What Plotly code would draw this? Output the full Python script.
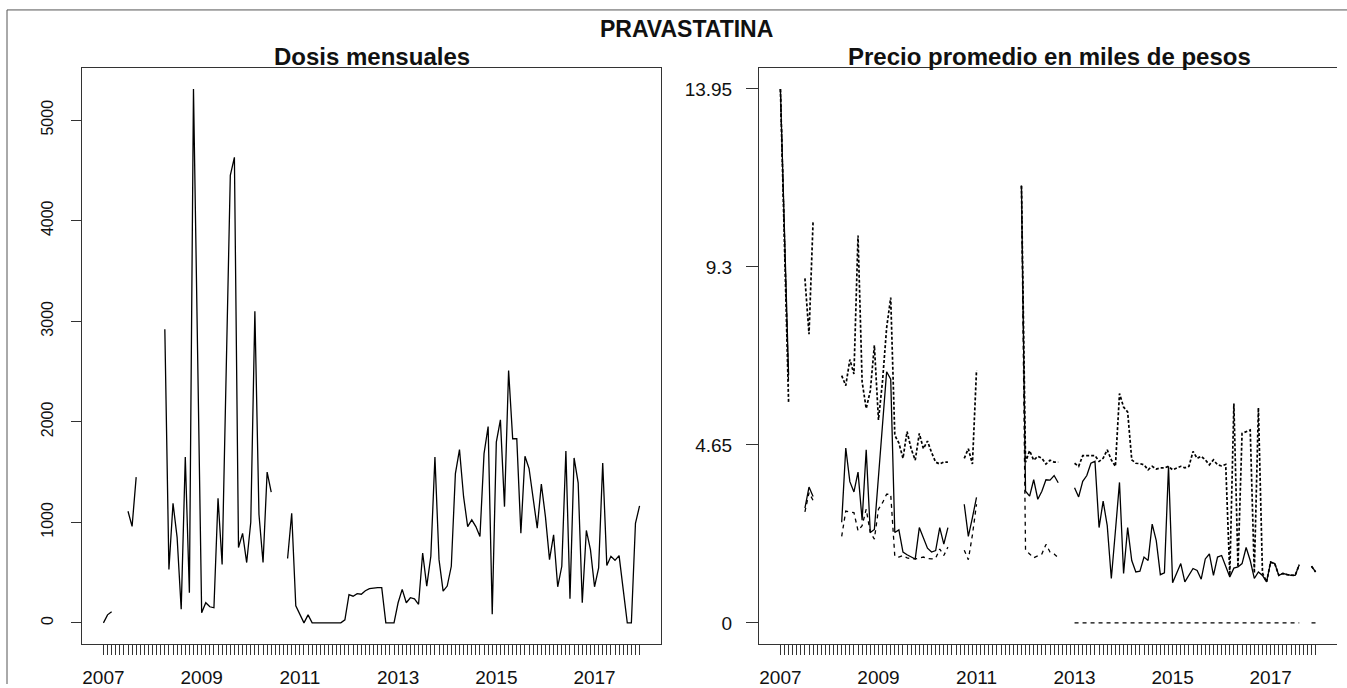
import plotly.graph_objects as go

# ---- data -------------------------------------------------------------
# month index: 1 = Jan 2007 ... 132 = Dec 2017
months = list(range(1, 133))
year_labels = ["2007", "2009", "2011", "2013", "2015", "2017"]

N = None

# monthly doses
dosis = [
    0, 80, 110, N, N, N, 1110, 960, 1450, N, N, N,                         # 2007
    N, N, N, 2920, 530, 1190, 850, 135, 1650, 300, 5310, 2710,             # 2008
    100, 200, 160, 150, 1240, 580, 2500, 4450, 4630, 750, 890, 600,        # 2009
    1000, 3100, 1080, 600, 1500, 1300, N, N, N, 640, 1090, 170,            # 2010
    80, 0, 80, 0, 0, 0, 0, 0, 0, 0, 0, 30,                                 # 2011
    280, 265, 290, 285, 320, 340, 346, 350, 350, 0, 0, 0,                  # 2012
    200, 333, 200, 250, 240, 185, 695, 366, 662, 1650, 629, 316,           # 2013
    366, 563, 1485, 1723, 1255, 958, 1025, 958, 860, 1683, 1953, 86,       # 2014
    1798, 2019, 1156, 2510, 1831, 1831, 892, 1657, 1535, 1222, 942, 1380,  # 2015
    1057, 629, 876, 359, 563, 1709, 240, 1640, 1393, 200, 919, 728,        # 2016
    359, 546, 1591, 570, 662, 622, 669, 333, 0, 0, 991, 1163,              # 2017
]

# average price (thousands of pesos)
precio_prom = [
    13.95, 10.2, 6.47, N, N, N, 3.0, 3.55, 3.3, N, N, N,
    N, N, N, 2.63, 4.57, 3.69, 3.42, 3.94, 2.68, 4.52, 2.36, 2.44,
    3.81, 5.19, 6.56, 6.37, 2.36, 2.43, 1.85, 1.78, 1.72, 1.67, 2.49, 2.2,
    1.95, 1.85, 1.89, 2.49, 2.06, 2.49, N, N, N, 3.1, 2.26, 2.75,
    3.28, N, N, N, N, N, N, N, N, N, N, 11.42,
    3.44, 3.31, 3.74, 3.23, 3.44, 3.74, 3.73, 3.85, 3.66, N, N, N,
    3.53, 3.29, 3.7, 3.85, 4.17, 4.22, 2.49, 3.18, 2.54, 1.16, 2.4, 3.67,
    1.29, 2.49, 1.63, 1.33, 1.35, 1.72, 1.63, 2.58, 2.15, 1.26, 1.31, 4.09,
    1.05, 1.29, 1.55, 1.07, 1.24, 1.42, 1.37, 1.14, 1.67, 1.8, 1.24, 1.72,
    1.76, 1.46, 1.2, 1.43, 1.46, 1.55, 1.97, 1.63, 1.16, 1.33, 1.24, 1.07,
    1.59, 1.55, 1.24, 1.29, 1.26, 1.24, 1.24, 1.52, N, N, 1.48, 1.33,
]

# maximum price
precio_max = [
    13.95, 9.9, 5.77, N, N, N, 9.0, 7.54, 10.5, N, N, N,
    N, N, N, 6.46, 6.2, 6.88, 6.5, 10.12, 6.3, 5.6, 6.06, 7.25,
    5.3, 6.32, 7.71, 8.5, 4.9, 4.7, 4.3, 5.0, 4.55, 4.25, 4.95, 4.55,
    4.75, 4.45, 4.2, 4.15, 4.2, 4.2, N, N, N, 4.3, 4.55, 4.15,
    6.6, N, N, N, N, N, N, N, N, N, N, 11.42,
    4.2, 4.5, 4.25, 4.35, 4.3, 4.15, 4.25, 4.2, 4.2, N, N, N,
    4.17, 4.09, 4.37, 4.37, 4.37, 4.37, 4.22, 4.3, 4.52, 4.26, 4.09, 5.99,
    5.64, 5.51, 4.26, 4.17, 4.16, 4.13, 4.0, 4.09, 4.02, 4.05, 4.05, 4.09,
    4.0, 4.05, 4.09, 4.05, 4.09, 4.48, 4.3, 4.35, 4.26, 4.13, 4.26, 4.13,
    4.1, 4.14, 1.24, 5.73, 1.46, 4.95, 5.0, 5.04, 1.3, 5.62, 1.3, 1.07,
    1.59, 1.55, 1.24, 1.29, 1.26, 1.24, 1.24, 1.52, N, N, 1.48, 1.33,
]

# minimum price
precio_min = [
    13.95, 10.0, 6.2, N, N, N, 2.9, 3.4, 3.2, N, N, N,
    N, N, N, 2.26, 2.92, 2.9, 2.88, 2.41, 2.54, 2.97, 2.36, 2.19,
    2.97, 3.14, 3.36, 3.36, 1.74, 1.72, 1.76, 1.7, 1.67, 1.67, 1.7, 1.72,
    1.68, 1.67, 1.69, 1.93, 1.76, 1.98, N, N, N, 1.9, 1.65, 2.3,
    3.1, N, N, N, N, N, N, N, N, N, N, 11.42,
    1.9, 1.8, 1.7, 1.75, 1.8, 2.05, 1.85, 1.8, 1.7, N, N, N,
    0, 0, 0, 0, 0, 0, 0, 0, 0, 0, 0, 0,
    0, 0, 0, 0, 0, 0, 0, 0, 0, 0, 0, 0,
    0, 0, 0, 0, 0, 0, 0, 0, 0, 0, 0, 0,
    0, 0, 0, 0, 0, 0, 0, 0, 0, 0, 0, 0,
    0, 0, 0, 0, 0, 0, 0, 0, N, N, 0, 0,
]

dosis_ticks = [0, 1000, 2000, 3000, 4000, 5000]
precio_ticks = [0, 4.65, 9.3, 13.95]
precio_tick_text = ["0", "4.65", "9.3", "13.95"]

# ---- layout helpers ------------------------------------------------------
W, H = 1347, 688
FONT = "Liberation Sans, Arial, sans-serif"
INK = "#111111"


def px_x(v):
    return v / W


def px_y(v):
    return 1 - v / H


def padded(lo, hi, frac=0.04):
    span = hi - lo
    return [lo - frac * span, hi + frac * span]


x_range = padded(months[0], months[-1])
month_text = [year_labels[(m - 1) // 24] if (m - 1) % 24 == 0 else "" for m in months]

fig = go.Figure()

line_solid = dict(color="black", width=1.3)
fig.add_trace(go.Scatter(x=months, y=dosis, mode="lines", line=line_solid,
                         xaxis="x", yaxis="y", hoverinfo="skip"))

fig.add_trace(go.Scatter(x=months, y=precio_max, mode="lines",
                         line=dict(color="black", width=1.7, dash="3px,2px"),
                         xaxis="x2", yaxis="y2", hoverinfo="skip"))
fig.add_trace(go.Scatter(x=months, y=precio_min, mode="lines",
                         line=dict(color="black", width=1.3, dash="4px,4px"),
                         xaxis="x2", yaxis="y2", hoverinfo="skip"))
fig.add_trace(go.Scatter(x=months, y=precio_prom, mode="lines", line=line_solid,
                         xaxis="x2", yaxis="y2", hoverinfo="skip"))

x_common = dict(
    range=x_range, tickvals=months, ticktext=month_text, tickangle=0,
    ticks="outside", ticklen=10, tickwidth=1, tickcolor="#333333",
    showgrid=False, zeroline=False, showline=True, linecolor="#333333",
    linewidth=1, mirror=True, ticklabelstandoff=6,
    tickfont=dict(family=FONT, size=19, color=INK),
)


def title(text, x, y, size):
    return dict(text="<b>" + text + "</b>", x=px_x(x), y=px_y(y),
                xref="paper", yref="paper", xanchor="center", yanchor="middle",
                showarrow=False, font=dict(family=FONT, size=size, color=INK))


fig.update_layout(
    width=W, height=H,
    margin=dict(l=0, r=0, t=0, b=0),
    paper_bgcolor="white", plot_bgcolor="white",
    showlegend=False,
    xaxis=dict(x_common, domain=[px_x(82), px_x(661)], anchor="y"),
    yaxis=dict(
        domain=[px_y(648), px_y(68)], anchor="x",
        range=padded(0, 5310), tickvals=dosis_ticks,
        ticktext=[str(v) for v in dosis_ticks], tickangle=-90,
        ticks="outside", ticklen=10, tickwidth=1, tickcolor="#333333",
        showgrid=False, zeroline=False, showline=True, linecolor="#333333",
        linewidth=1, mirror=True, ticklabelstandoff=12,
        tickfont=dict(family=FONT, size=16, color=INK),
    ),
    xaxis2=dict(x_common, domain=[px_x(759), px_x(1337)], anchor="y2"),
    yaxis2=dict(
        domain=[px_y(648), px_y(68)], anchor="x2",
        range=padded(0, 13.95), tickvals=precio_ticks, ticktext=precio_tick_text,
        ticks="outside", ticklen=12, tickwidth=1, tickcolor="#333333",
        showgrid=False, zeroline=False, showline=True, linecolor="#333333",
        linewidth=1, mirror=False, ticklabelstandoff=10,
        tickfont=dict(family=FONT, size=19, color=INK),
    ),
    annotations=[
        title("PRAVASTATINA", 686, 29, 23),
        title("Dosis mensuales", 372, 57, 24),
        title("Precio promedio en miles de pesos", 1049, 57, 24),
    ],
    shapes=[
        # outer frame
        dict(type="line", xref="paper", yref="paper",
             x0=px_x(7), x1=1, y0=px_y(10), y1=px_y(10),
             line=dict(color="#555555", width=1)),
        dict(type="line", xref="paper", yref="paper",
             x0=px_x(7), x1=px_x(7), y0=0, y1=px_y(10),
             line=dict(color="#555555", width=1)),
    ],
)

fig.write_html("out.html")
